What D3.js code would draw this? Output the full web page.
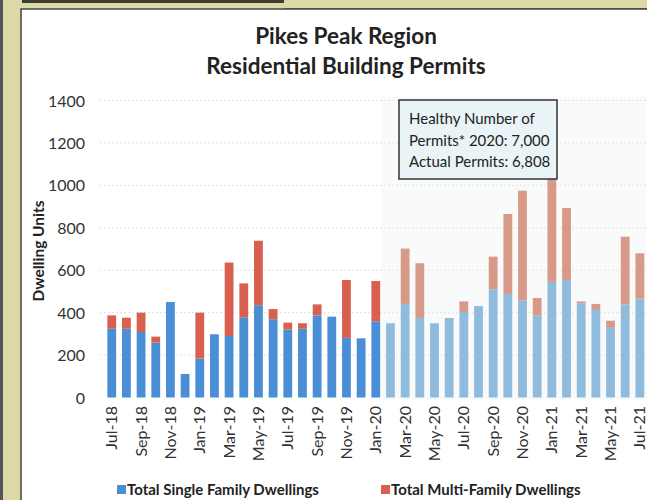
<!DOCTYPE html>
<html><head><meta charset="utf-8">
<script src="https://cdn.jsdelivr.net/npm/d3@7"></script>
<style>body{margin:0;padding:0;overflow:hidden;background:#fff}</style>
</head><body><svg id="c" width="647" height="500"></svg>
<script>
const months = ["Jul-18","Aug-18","Sep-18","Oct-18","Nov-18","Dec-18","Jan-19","Feb-19","Mar-19","Apr-19","May-19","Jun-19",
"Jul-19","Aug-19","Sep-19","Oct-19","Nov-19","Dec-19","Jan-20","Feb-20","Mar-20","Apr-20","May-20","Jun-20",
"Jul-20","Aug-20","Sep-20","Oct-20","Nov-20","Dec-20","Jan-21","Feb-21","Mar-21","Apr-21","May-21","Jun-21","Jul-21"];
const singleFamily = [324,324,309,259,450,111,183,298,290,378,435,369,
320,324,387,381,281,279,359,350,441,375,350,375,
403,431,510,488,457,387,545,554,444,413,328,438,466];
const multiFamily = [63,52,91,28,0,0,217,0,346,160,304,48,
33,26,52,0,273,0,190,0,261,258,0,0,
50,0,154,377,518,82,495,339,9,28,34,320,214];
const tickLabels = ["Jul-18","Sep-18","Nov-18","Jan-19","Mar-19","May-19","Jul-19","Sep-19","Nov-19","Jan-20",
"Mar-20","May-20","Jul-20","Sep-20","Nov-20","Jan-21","Mar-21","May-21","Jul-21"];
const yTicks = [0,200,400,600,800,1000,1200,1400];
const fadeFrom = "Feb-20";
const seriesNames = ["Total Single Family Dwellings","Total Multi-Family Dwellings"];

const svg = d3.select("#c");
const font = "Lato, 'Open Sans', sans-serif";
// frame
svg.append("rect").attr("x",0).attr("y",0).attr("width",647).attr("height",500).attr("fill","#dcd9a6");
svg.append("rect").attr("x",0).attr("y",0).attr("width",3).attr("height",500).attr("fill","#555");
svg.append("rect").attr("x",22).attr("y",0).attr("width",262).attr("height",3).attr("fill","#3a3d30");
svg.append("rect").attr("x",284).attr("y",8).attr("width",363).attr("height",1.5).attr("fill","#6a6a5a");
svg.append("rect").attr("x",21).attr("y",9).attr("width",640).attr("height",500).attr("fill","#fff").attr("stroke","#444").attr("stroke-width",1.5);

const data = months.map((m,i)=>({m, s:singleFamily[i], f:multiFamily[i], fade: i>=months.indexOf(fadeFrom)}));
const x = d3.scaleBand().domain(months).range([104.4,647.2]).paddingInner(0.4).paddingOuter(0.2);
const y = d3.scaleLinear().domain([0,1400]).range([397.5,100.5]);

// faded region background
const fx = x(fadeFrom) - x.step()*0.3;
svg.append("rect").attr("x",fx).attr("y",y(1400)-4).attr("width",647-fx).attr("height",y(0)-y(1400)+6).attr("fill","#f9fafa");

// gridlines
svg.append("g").selectAll("line").data(yTicks.filter(d=>d>0)).join("line")
 .attr("x1",100).attr("x2",647).attr("y1",d=>y(d)).attr("y2",d=>y(d))
 .attr("stroke","#e2e2e2").attr("stroke-width",1).attr("stroke-dasharray","2,2");

// y axis labels
const yAxis = d3.axisLeft(y).tickValues(yTicks).tickFormat(d3.format("d")).tickSize(0).tickPadding(0);
const yg = svg.append("g").attr("transform","translate(85,0)").call(yAxis);
yg.select(".domain").remove();
yg.selectAll("text").attr("font-family",font).attr("font-size",16).attr("fill","#333").attr("dy","0.35em");

svg.append("text").attr("transform","translate(44,251) rotate(-90)").attr("text-anchor","middle")
 .attr("font-family",font).attr("font-weight","bold").attr("font-size",15.5).attr("fill","#222").text("Dwelling Units");

const colS = d=>d.fade?"#8fbcdc":"#4a8fd6";
const colF = d=>d.fade?"#d79a89":"#d9604e";
svg.append("g").selectAll("rect").data(data).join("rect")
 .attr("x",d=>x(d.m)).attr("width",x.bandwidth()).attr("y",d=>y(d.s)).attr("height",d=>y(0)-y(d.s)).attr("fill",colS);
svg.append("g").selectAll("rect").data(data.filter(d=>d.f>0)).join("rect")
 .attr("x",d=>x(d.m)).attr("width",x.bandwidth()).attr("y",d=>y(d.s+d.f)).attr("height",d=>y(d.s)-y(d.s+d.f)).attr("fill",colF);

// x axis labels
const xAxis = d3.axisBottom(x).tickValues(tickLabels).tickSize(0).tickPadding(0);
const xg = svg.append("g").attr("transform","translate(0,406)").call(xAxis);
xg.select(".domain").remove();
xg.selectAll("text").attr("font-family",font).attr("font-size",16).attr("fill","#333")
 .attr("text-anchor","end").attr("transform","rotate(-90)").attr("x",0).attr("y",0).attr("dx",0).attr("dy","0.35em");

// title
svg.append("text").attr("x",346).attr("y",44).attr("text-anchor","middle").attr("font-family",font).attr("font-weight","bold").attr("font-size",22.5).attr("fill","#222").text("Pikes Peak Region");
svg.append("text").attr("x",346).attr("y",74).attr("text-anchor","middle").attr("font-family",font).attr("font-weight","bold").attr("font-size",22.5).attr("fill","#222").text("Residential Building Permits");

// annotation box
svg.append("rect").attr("x",399).attr("y",100).attr("width",158).attr("height",79).attr("fill","#eaf3f5").attr("stroke","#333").attr("stroke-width",1.5);
const boxLines = ["Healthy Number of","Permits* 2020: 7,000","Actual Permits: 6,808"];
svg.append("g").selectAll("text").data(boxLines).join("text")
 .attr("x",409).attr("y",(d,i)=>124+i*21.5).attr("font-family",font).attr("font-size",15).attr("fill","#222").text(d=>d);

// legend
const lg = svg.append("g");
const legX = [117,381], legC = ["#4a8fd6","#d9604e"];
seriesNames.forEach((n,i)=>{
 lg.append("rect").attr("x",legX[i]).attr("y",485).attr("width",9).attr("height",9).attr("fill",legC[i]);
 lg.append("text").attr("x",legX[i]+10).attr("y",495).attr("font-family",font).attr("font-weight","bold").attr("font-size",15).attr("fill","#222").text(n);
});
</script></body></html>
